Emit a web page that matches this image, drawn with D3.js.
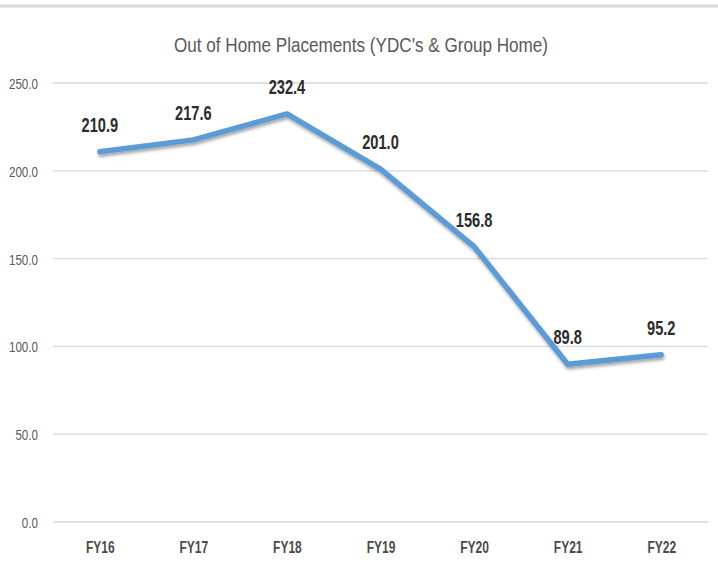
<!DOCTYPE html>
<html>
<head>
<meta charset="utf-8">
<script src="https://cdn.jsdelivr.net/npm/d3@7"></script>
<style>
body{margin:0;background:#fff;}
svg{display:block;}
</style>
</head>
<body>
<svg id="chart" width="718" height="569"></svg>
<script>
const categories = ["FY16","FY17","FY18","FY19","FY20","FY21","FY22"];
const values = [210.9, 217.6, 232.4, 201.0, 156.8, 89.8, 95.2];
const yTicks = [0, 50, 100, 150, 200, 250];
const title = "Out of Home Placements (YDC's & Group Home)";

const svg = d3.select("#chart");
const W = 718, H = 569;
const m = {left:53, right:10, top:83, bottom:47};
const font = "'Liberation Sans',Arial,sans-serif";
const sx = 0.75; // horizontal condensing to mimic narrow font

svg.append("rect").attr("width",W).attr("height",H).attr("fill","#fff");
svg.append("line").attr("x1",0).attr("x2",W).attr("y1",6).attr("y2",6)
  .attr("stroke","#d9d9d9").attr("stroke-width",3);

const x = d3.scalePoint().domain(categories).range([m.left, W-m.right]).padding(0.5);
const y = d3.scaleLinear().domain([0,250]).range([H-m.bottom, m.top]);

// gridlines
svg.append("g").selectAll("line").data(yTicks).join("line")
  .attr("x1",m.left).attr("x2",W-m.right)
  .attr("y1",d=>y(d)).attr("y2",d=>y(d))
  .attr("stroke","#d9d9d9").attr("stroke-width",1.3);

// y axis labels
const yAxis = d3.axisLeft(y).tickValues(yTicks).tickFormat(d3.format(".1f")).tickSize(0);
const ga = svg.append("g").attr("transform",`translate(${m.left},0)`).call(yAxis);
ga.select(".domain").remove();
ga.selectAll("text")
  .attr("fill","#595959").attr("font-size",15.5).attr("font-family",font)
  .attr("x",-15/sx).attr("dy","0.36em")
  .attr("transform",`scale(${sx},1)`);

// x axis labels
const xAxis = d3.axisBottom(x).tickSize(0);
const gx = svg.append("g").attr("transform",`translate(0,${y(0)})`).call(xAxis);
gx.select(".domain").remove();
gx.selectAll("text")
  .attr("fill","#4a4a4a").attr("font-size",16).attr("font-weight","bold").attr("font-family",font)
  .attr("y",31).attr("dy",0)
  .attr("transform",`scale(${sx},1)`);

// shadow filter
const defs = svg.append("defs");
const f = defs.append("filter").attr("id","sh").attr("x","-10%").attr("y","-10%").attr("width","120%").attr("height","130%");
f.append("feDropShadow").attr("dx",1).attr("dy",2.5).attr("stdDeviation",1.5).attr("flood-color","#000").attr("flood-opacity",0.35);

const line = d3.line().x((d,i)=>x(categories[i])).y(d=>y(d));
svg.append("path").datum(values).attr("d",line)
  .attr("fill","none").attr("stroke","#5B9BD5").attr("stroke-width",5.5)
  .attr("stroke-linejoin","round").attr("stroke-linecap","round")
  .attr("filter","url(#sh)");

// data labels
svg.append("g").selectAll("text").data(values).join("text")
  .attr("transform",(d,i)=>`translate(${x(categories[i])},${y(d)-20}) scale(${sx},1)`)
  .attr("text-anchor","middle")
  .attr("font-family",font).attr("font-size",19.5).attr("font-weight","bold")
  .attr("fill","#2b2b2b")
  .text(d=>d3.format(".1f")(d));

// title
svg.append("text").attr("x",361).attr("y",52).attr("text-anchor","middle")
  .attr("font-family",font).attr("font-size",21).attr("fill","#595959")
  .attr("textLength",374).attr("lengthAdjust","spacingAndGlyphs")
  .text(title);
</script>
</body>
</html>
